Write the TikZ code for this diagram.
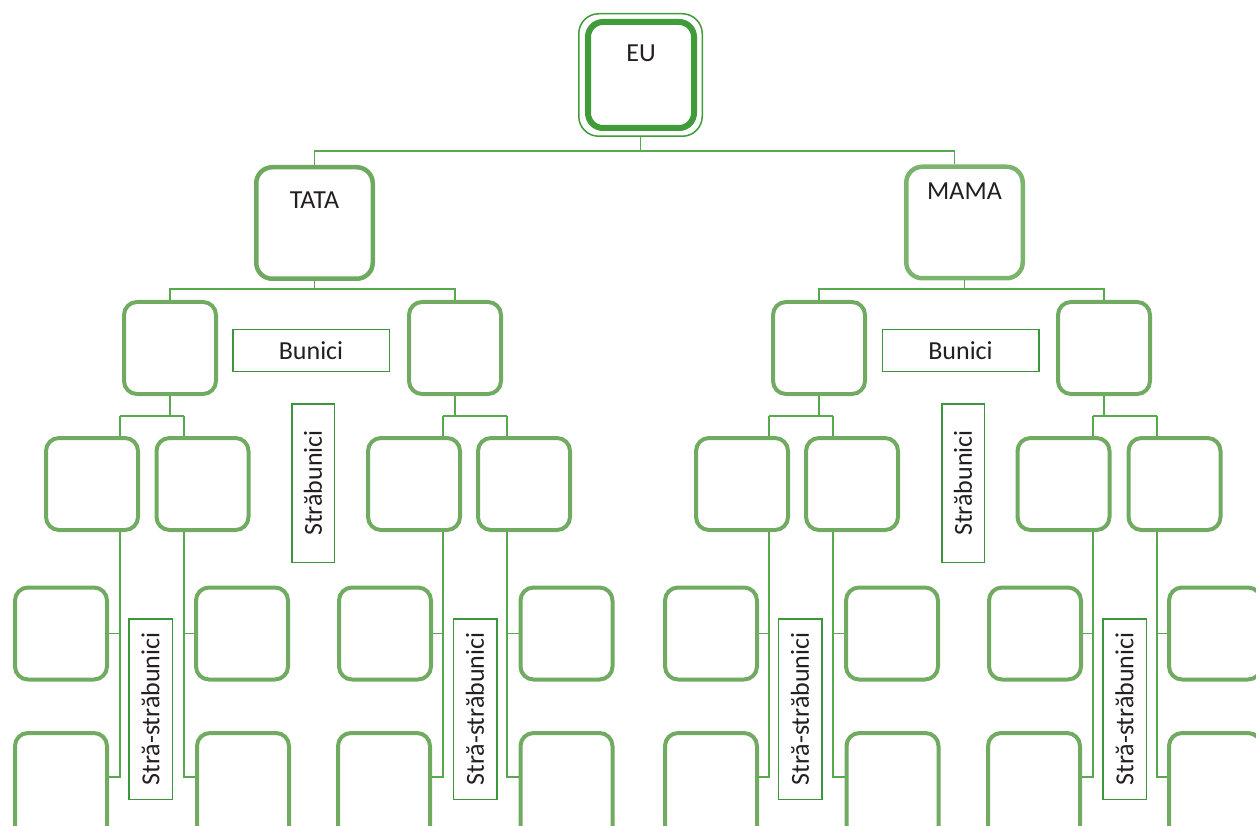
\documentclass[tikz,border=0pt]{standalone}
\usepackage{fontspec}
\setmainfont{Carlito}
\definecolor{boxg}{RGB}{112,171,97}
\definecolor{tatag}{RGB}{110,169,95}
\definecolor{mamag}{RGB}{124,180,110}
\definecolor{eug}{RGB}{64,155,57}
\definecolor{lblg}{RGB}{62,150,60}
\definecolor{lng}{RGB}{88,168,78}
\definecolor{txt}{RGB}{35,31,32}
\begin{document}
\begin{tikzpicture}[x=1pt,y=-1pt,
  conn/.style={draw=lng, line width=1.3pt},
  gbox/.style={draw=boxg, line width=4pt, rounded corners=13pt, fill=white, inner sep=0pt, minimum width=92pt, minimum height=92pt},
  tallbox/.style={gbox, minimum height=120pt},
  pbox/.style={line width=4.5pt, rounded corners=16pt, fill=white, inner sep=0pt, minimum width=116.5pt, minimum height=111.5pt, text=txt, font=\fontsize{26}{30}\selectfont, text height=18pt},
  lbl/.style={draw=lblg, line width=1.5pt, fill=white, inner sep=0pt, text=txt, font=\fontsize{26}{30}\selectfont},
  hlbl/.style={lbl, minimum width=156.5pt, minimum height=41.5pt},
  vlbl/.style={lbl, rotate=90, minimum width=158.5pt, minimum height=42.5pt},
  vvlbl/.style={lbl, rotate=90, minimum width=180.5pt, minimum height=43.5pt},
]
\useasboundingbox (0,0) rectangle (1256,826);
\clip (0,0) rectangle (1256,826);

% EU
\node[draw=eug, line width=1.5pt, rounded corners=20pt, minimum width=123.5pt, minimum height=122.5pt, inner sep=0pt] (euo) at (640.5,75) {};
\node[draw=eug, line width=6pt, rounded corners=15pt, minimum width=106pt, minimum height=106pt, inner sep=0pt, text=txt, font=\fontsize{26}{30}\selectfont, text height=18pt, text depth=45pt] (eu) at (641,75) {EU};

% parents
\node[pbox, draw=tatag, text depth=47pt] (tata) at (314.5,223) {TATA};
\node[pbox, draw=mamag, text depth=63pt] (mama) at (964.5,222.5) {MAMA};

% grandparents
\node[gbox] (n1) at (170,348) {};
\node[gbox] (n2) at (455,348) {};
\node[gbox] (n3) at (819,348) {};
\node[gbox] (n4) at (1104,348) {};

\node[hlbl] (bn1) at (311,350.5) {Bunici};
\node[hlbl] (bn2) at (960.5,350.5) {Bunici};
\node[vlbl] (sb1) at (313,483) {Străbunici};
\node[vlbl] (sb2) at (963,483) {Străbunici};

% great-grandparents
\node[gbox] (a1) at (92,484) {};
\node[gbox] (b1) at (202.5,484) {};
\node[gbox] (a2) at (414,484) {};
\node[gbox] (b2) at (524,484) {};
\node[gbox] (a3) at (742,484) {};
\node[gbox] (b3) at (852,484) {};
\node[gbox] (a4) at (1063.5,484) {};
\node[gbox] (b4) at (1174.5,484) {};

% great-great-grandparents
\node[gbox] (c1) at (61,633.5) {};
\node[tallbox] (d1) at (61,793) {};
\node[gbox] (e1) at (242,633.5) {};
\node[tallbox] (f1) at (243,793) {};
\node[gbox] (c2) at (385,633.5) {};
\node[tallbox] (d2) at (384,793) {};
\node[gbox] (e2) at (566.5,633.5) {};
\node[tallbox] (f2) at (566.5,793) {};
\node[gbox] (c3) at (711,633.5) {};
\node[tallbox] (d3) at (711,793) {};
\node[gbox] (e3) at (892,633.5) {};
\node[tallbox] (f3) at (892.5,793) {};
\node[gbox] (c4) at (1035,633.5) {};
\node[tallbox] (d4) at (1034,793) {};
\node[gbox] (e4) at (1215,633.5) {};
\node[tallbox] (f4) at (1215,793) {};

\node[vvlbl] (s1) at (150.5,709) {Stră-străbunici};
\node[vvlbl] (s2) at (475,709) {Stră-străbunici};
\node[vvlbl] (s3) at (800,709) {Stră-străbunici};
\node[vvlbl] (s4) at (1124.5,709) {Stră-străbunici};

% connectors
\coordinate (ej) at (640,151);
\coordinate (mtop) at ([xshift=-10pt]mama.north);
\draw[conn] (euo.south) -- (euo.south |- ej);
\draw[conn] (tata.north) |- (mtop |- ej) -- (mtop);

\coordinate (pj) at (0,289);
\draw[conn] (tata.south) -- (tata.south |- pj);
\draw[conn] (n1.north) |- (n2.north |- pj) -- (n2.north);
\draw[conn] (mama.south) -- (mama.south |- pj);
\draw[conn] (n3.north) |- (n4.north |- pj) -- (n4.north);

\coordinate (L1) at (120,416);  \coordinate (R1) at (184,416);
\coordinate (L2) at (443,416);  \coordinate (R2) at (507,416);
\coordinate (L3) at (769,416);  \coordinate (R3) at (833,416);
\coordinate (L4) at (1093,416); \coordinate (R4) at (1157,416);

\foreach \g in {1,2,3,4}{
  \draw[conn] (n\g.south) -- (n\g.south |- L\g);
  \draw[conn] (L\g) -- (R\g);
  \draw[conn] (L\g) -- (L\g |- a\g.north);
  \draw[conn] (R\g) -- (R\g |- b\g.north);
  \draw[conn] (L\g |- a\g.south) |- ([yshift=-46pt]d\g.north east);
  \draw[conn] (c\g.east) -- (c\g.east -| L\g);
  \draw[conn] (R\g |- b\g.south) |- ([yshift=-46pt]f\g.north west);
  \draw[conn] (e\g.west) -- (e\g.west -| R\g);
}
\end{tikzpicture}
\end{document}
